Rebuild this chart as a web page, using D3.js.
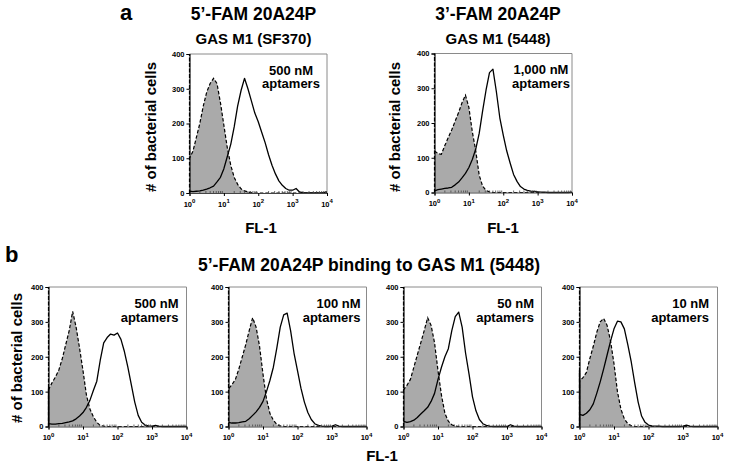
<!DOCTYPE html>
<html><head><meta charset="utf-8">
<script src="https://cdn.jsdelivr.net/npm/d3@7"></script>
<style>
html,body{margin:0;padding:0;background:#fff;}
svg{display:block;font-family:"Liberation Sans",Arial,sans-serif;font-weight:bold;}
</style></head>
<body>
<svg id="chart" width="729" height="469"></svg>
<script>
// ---- DATA ----
const logFL = [0.0,0.1,0.2,0.3,0.4,0.5,0.6,0.7,0.8,0.9,1.0,1.1,1.2,1.3,1.4,1.5,1.6,1.7,1.8,1.9,2.0,2.1,2.2,2.3,2.4,2.5,2.6,2.7,2.8,2.9,3.0,3.1,3.2,3.3,3.4,3.5,3.6,3.7,3.8,3.9,4.0];
const xTicks = [1, 10, 100, 1000, 10000];
const xTickExp = ["0","1","2","3","4"];
const yTicks = [0, 100, 200, 300, 400];

const a1Ctrl = [100,120,160,200,250,290,315,330,315,260,195,130,80,45,25,12,6,3,1,0,0,0,0,0,0,0,0,0,0,0,0,0,0,0,0,0,0,0,0,0,0];
const a1Apt  = [5,4,5,6,8,11,15,20,32,45,70,105,140,190,250,295,330,300,265,230,205,175,145,110,80,55,35,22,13,8,8,13,3,1,0,0,0,0,0,1,3];
const a2Ctrl = [120,112,110,135,158,180,205,230,258,280,245,175,120,50,18,6,2,0,0,0,0,0,0,0,0,0,0,0,0,0,0,0,0,0,0,0,0,0,0,0,0];
const a2Apt  = [5,8,10,12,13,15,22,30,42,55,72,95,125,170,235,295,345,355,290,215,165,120,85,52,32,17,10,6,4,3,2,1,1,0,0,0,0,0,0,0,1];
const b1Ctrl = [105,125,142,162,195,235,275,330,285,225,160,90,50,28,12,3,1,0,0,0,0,0,0,0,0,0,0,0,0,0,0,0,0,0,0,0,0,0,0,0,0];
const b1Apt  = [8,7,7,8,9,11,13,16,22,30,40,55,75,103,130,190,240,255,265,262,268,250,215,170,120,70,32,12,4,2,1,3,1,0,0,0,0,0,0,0,0];
const b2Ctrl = [108,120,135,165,200,235,275,312,285,230,150,80,38,18,6,2,0,0,0,0,0,0,0,0,0,0,0,0,0,0,0,0,0,0,0,0,0,0,0,0,0];
const b2Apt  = [12,10,10,11,13,15,22,32,42,55,72,100,132,170,225,285,320,325,275,210,160,110,70,40,20,8,3,1,0,0,1,5,1,0,0,0,0,0,0,0,0];
const b3Ctrl = [105,118,135,170,205,240,275,312,290,240,160,90,38,15,5,1,0,0,0,0,0,0,0,0,0,0,0,0,0,0,0,0,0,0,0,0,0,0,0,0,0];
const b3Apt  = [15,12,14,18,26,36,45,55,72,95,135,170,200,223,275,315,328,285,210,150,85,45,20,8,3,1,0,0,0,0,0,5,1,0,0,0,0,0,0,0,0];
const b4Ctrl = [130,140,155,195,230,270,300,310,290,245,180,100,50,22,8,2,0,0,0,0,0,0,0,0,0,0,0,0,0,0,0,0,0,0,0,0,0,0,0,0,0];
const b4Apt  = [35,32,38,48,65,95,128,165,205,245,280,302,300,280,235,185,125,70,30,12,4,2,1,1,0,0,0,0,0,0,1,4,1,0,0,0,0,0,0,0,0];

// first-channel (10^0) pile-up values
const ctrlSpike = [400, 400, 400, 400, 400, 400];
const aptSpike  = [0, 0, 110, 0, 0, 160];

const concLines1 = ["500 nM", "1,000 nM", "500 nM", "100 nM", "50 nM", "10 nM"];
const concLine2 = "aptamers";

// ---- LAYOUT ----
const panels = [
  {ctrl:a1Ctrl, apt:a1Apt, x0:189.5, x1:327, y0:54, y1:193, lab:{anchor:"middle", x:291, y1:74.5, y2:88}},
  {ctrl:a2Ctrl, apt:a2Apt, x0:434.5, x1:572, y0:53.5, y1:192.5, lab:{anchor:"middle", x:541, y1:74, y2:87.5}},
  {ctrl:b1Ctrl, apt:b1Apt, x0:48.5, x1:186.5, y0:287, y1:426.5, lab:{anchor:"end", x:178.5, y1:307.5, y2:322}},
  {ctrl:b2Ctrl, apt:b2Apt, x0:228.5, x1:366.5, y0:287, y1:426.5, lab:{anchor:"end", x:360.5, y1:307.5, y2:322}},
  {ctrl:b3Ctrl, apt:b3Apt, x0:403.5, x1:541.5, y0:287, y1:426.5, lab:{anchor:"end", x:534, y1:307.5, y2:322}},
  {ctrl:b4Ctrl, apt:b4Apt, x0:579.5, x1:717.5, y0:287, y1:426.5, lab:{anchor:"end", x:709, y1:307.5, y2:322}}
];

const svg = d3.select("#chart");

panels.forEach((p, i) => {
  const x = d3.scaleLog().domain([1, 10000]).range([p.x0, p.x1]);
  const y = d3.scaleLinear().domain([0, 400]).range([p.y1, p.y0]);
  const g = svg.append("g");

  const ctrlPts = logFL.map((v, k) => [Math.pow(10, v), p.ctrl[k]]);
  const aptPts = logFL.map((v, k) => [Math.pow(10, v), p.apt[k]]);

  // gray fill
  const area = d3.area().x(d => x(d[0])).y0(y(0)).y1(d => y(d[1]));
  g.append("path").attr("d", area(ctrlPts)).attr("fill", "#aaaaaa").attr("stroke", "none");

  const line = d3.line().x(d => x(d[0])).y(d => y(d[1]));

  // frame
  g.append("path")
    .attr("d", `M${p.x0},${p.y0}H${p.x1}V${p.y1}`)
    .attr("fill", "none").attr("stroke", "#8a8a8a").attr("stroke-width", 1);

  // control dashed
  const cPath = [[1, 0], [1, ctrlSpike[i]]].concat(ctrlPts);
  g.append("path").attr("d", line(cPath)).attr("fill", "none")
    .attr("stroke", "#000").attr("stroke-width", 1.2).attr("stroke-dasharray", "3.5,2");

  // aptamer solid
  const aPath = (aptSpike[i] > 0 ? [[1, 0], [1, aptSpike[i]]] : []).concat(aptPts);
  g.append("path").attr("d", line(aPath)).attr("fill", "none")
    .attr("stroke", "#000").attr("stroke-width", 1.3).attr("stroke-linejoin", "round");

  // y axis
  const yAx = g.append("g").attr("transform", `translate(${p.x0},0)`)
    .call(d3.axisLeft(y).tickValues(yTicks).tickSize(3).tickPadding(2));
  yAx.select(".domain").attr("stroke", "#000").attr("stroke-width", 1.1);
  yAx.selectAll("text").attr("font-size", 7.5).attr("font-weight", "bold")
    .attr("font-family", '"Liberation Sans",Arial,sans-serif').attr("fill", "#000");

  // x axis
  const xAx = g.append("g").attr("transform", `translate(0,${p.y1})`)
    .call(d3.axisBottom(x).tickValues(xTicks).tickSize(3).tickFormat(() => ""));
  xAx.select(".domain").attr("stroke", "#444").attr("stroke-width", 1);
  // minor ticks (inward)
  const minors = [];
  for (const dec of [1, 10, 100, 1000]) for (const m of [2,3,4,5,6,7,8,9]) minors.push(dec * m);
  g.selectAll(null).data(minors).enter().append("line")
    .attr("x1", d => x(d)).attr("x2", d => x(d))
    .attr("y1", p.y1).attr("y2", p.y1 - 2)
    .attr("stroke", "#444").attr("stroke-width", 0.8);
  // tick labels with superscripts
  xTicks.forEach((t, k) => {
    const tx = g.append("text").attr("x", x(t)).attr("y", p.y1 + 13.5)
      .attr("text-anchor", "middle").attr("font-size", 7.5).attr("fill", "#000");
    tx.append("tspan").text("10");
    tx.append("tspan").attr("dy", -3.5).attr("font-size", 6).text(xTickExp[k]);
  });

  // concentration labels
  g.append("text").attr("x", p.lab.x).attr("y", p.lab.y1).attr("text-anchor", p.lab.anchor)
    .attr("font-size", 13).text(concLines1[i]);
  g.append("text").attr("x", p.lab.x).attr("y", p.lab.y2).attr("text-anchor", p.lab.anchor)
    .attr("font-size", 13).text(concLine2);
});

// ---- TEXT ----
function txt(x, y, s, size, anchor, rot) {
  const t = svg.append("text").attr("font-size", size).attr("text-anchor", anchor || "middle").text(s);
  if (rot) t.attr("transform", `translate(${x},${y}) rotate(-90)`);
  else t.attr("x", x).attr("y", y);
  return t;
}
txt(120, 20, "a", 22, "start");
txt(5, 262, "b", 22, "start");
txt(253.5, 20, "5\u2019-FAM 20A24P", 17.5);
txt(253.5, 43.5, "GAS M1 (SF370)", 15);
txt(498, 20, "3\u2019-FAM 20A24P", 17.5);
txt(498, 43.5, "GAS M1 (5448)", 15);
txt(369, 270.5, "5\u2019-FAM 20A24P binding to GAS M1 (5448)", 17.5);
txt(156, 127, "# of bacterial cells", 15, "middle", true);
txt(400, 127, "# of bacterial cells", 15, "middle", true);
txt(22, 358, "# of bacterial cells", 15, "middle", true);
txt(261, 233, "FL-1", 15);
txt(503, 233, "FL-1", 15);
txt(382, 461, "FL-1", 15);
</script>
</body></html>
